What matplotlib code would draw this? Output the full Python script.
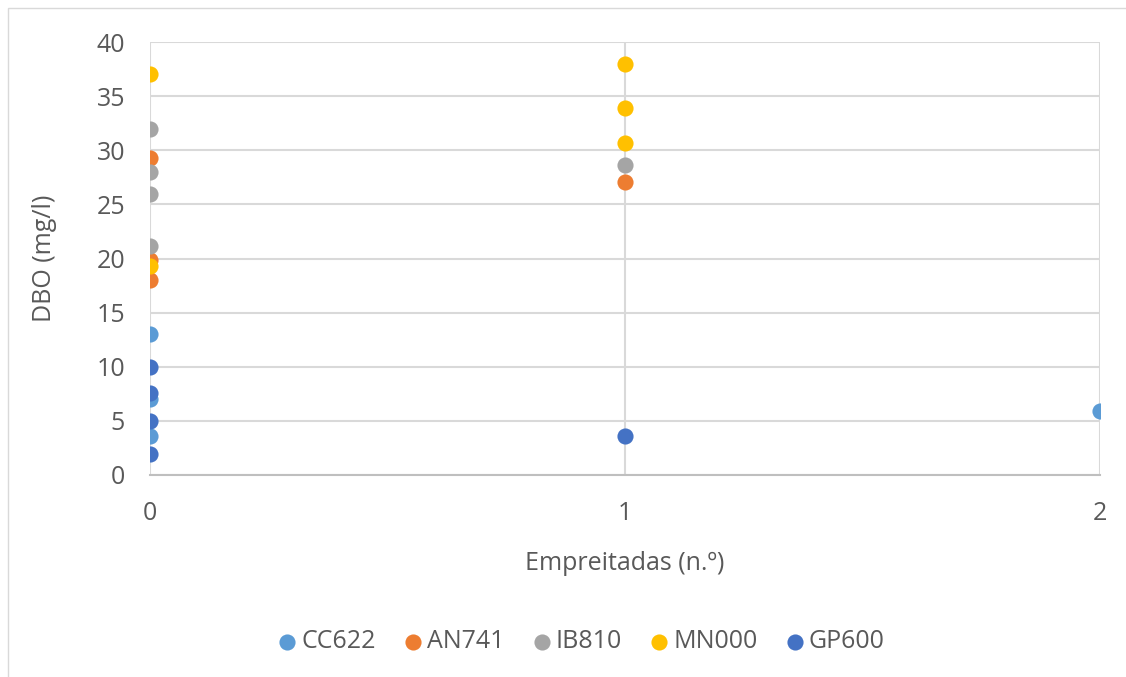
import matplotlib
matplotlib.use("Agg")
import matplotlib.pyplot as plt
from matplotlib.patches import Rectangle

plt.rcParams['font.family'] = ['Open Sans', 'DejaVu Sans']

series_names = ["CC622", "AN741", "IB810", "MN000", "GP600"]
series_colors = ["#5B9BD5", "#ED7D31", "#A5A5A5", "#FFC000", "#4472C4"]

cc622_x = [0, 0, 0, 2]
cc622_y = [13.0, 7.0, 3.6, 5.9]
an741_x = [0, 0, 0, 1]
an741_y = [29.3, 19.9, 18.0, 27.1]
ib810_x = [0, 0, 0, 0, 1]
ib810_y = [32.0, 28.0, 26.0, 21.2, 28.6]
mn000_x = [0, 0, 1, 1, 1]
mn000_y = [37.0, 19.3, 38.0, 33.9, 30.7]
gp600_x = [0, 0, 0, 0, 1]
gp600_y = [10.0, 7.6, 5.0, 1.9, 3.6]

xs = [cc622_x, an741_x, ib810_x, mn000_x, gp600_x]
ys = [cc622_y, an741_y, ib810_y, mn000_y, gp600_y]

x_ticks = [0, 1, 2]
y_ticks = [0, 5, 10, 15, 20, 25, 30, 35, 40]

fig = plt.figure(figsize=(11.26, 6.77), dpi=100)
ax = fig.add_axes([150 / 1126, 1 - 475 / 677, 950 / 1126, 433 / 677])

grid_c = "#D9D9D9"
text_c = "#595959"
fs = 18

for name, c, x, y in zip(series_names, series_colors, xs, ys):
    ax.scatter(x, y, s=135, color=c, label=name, zorder=3, linewidths=0)

ax.set_xlim(0, 2)
ax.set_ylim(0, 40)
ax.set_xticks(x_ticks)
ax.set_yticks(y_ticks)
ax.grid(True, color=grid_c, linewidth=1.5, zorder=0)
ax.set_axisbelow(True)
for side in ["top", "right", "left"]:
    ax.spines[side].set_visible(False)
ax.spines["bottom"].set_color("#BFBFBF")
ax.spines["bottom"].set_linewidth(1.5)
ax.tick_params(axis="both", length=0, labelsize=fs, colors=text_c)
ax.tick_params(axis="x", pad=19)
ax.tick_params(axis="y", pad=18)

ax.set_ylabel("DBO (mg/l)", fontsize=fs, color=text_c, labelpad=28)
ax.set_xlabel("Empreitadas (n.º)", fontsize=fs, color=text_c, labelpad=18)

for t in ax.get_xticklabels() + ax.get_yticklabels():
    t.set_clip_on(False)

fig.legend(loc="center", bbox_to_anchor=(581 / 1126, 1 - 642 / 677), ncol=5,
           frameon=False, fontsize=fs, labelcolor=text_c, handletextpad=0.15,
           handlelength=0.8, columnspacing=1.1, markerscale=1.0,
           scatterpoints=1)

fig.patches.append(Rectangle((8 / 1126, -0.01), 1.1, 1 - 8 / 677 + 0.01,
                             transform=fig.transFigure, fill=False,
                             edgecolor="#D9D9D9", linewidth=1.0))

fig.savefig("out.png", dpi=100, facecolor="white")
